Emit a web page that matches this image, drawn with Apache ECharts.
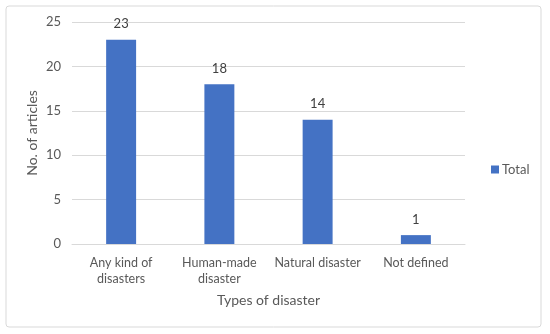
<!DOCTYPE html>
<html><head><meta charset="utf-8">
<script src="https://cdn.jsdelivr.net/npm/echarts@6/dist/echarts.min.js"></script>
<style>html,body{margin:0;padding:0;background:#fff}#c{width:550px;height:334px}</style>
</head><body><div id="c"></div>
<script>
const categories = ["Any kind of\ndisasters", "Human-made\ndisaster", "Natural disaster", "Not defined"];
const totals = [23, 18, 14, 1];
const yTicks = [0, 5, 10, 15, 20, 25];
const seriesName = "Total";
const xTitle = "Types of disaster";
const yTitle = "No. of articles";

const font = "Lato, 'Open Sans', sans-serif";
const chart = echarts.init(document.getElementById('c'), null, {renderer: 'canvas'});
chart.setOption({
  animation: false,
  textStyle: {fontFamily: font},
  graphic: [{
    type: 'rect', shape: {x: 6, y: 6, width: 535, height: 321, r: 3},
    style: {fill: 'none', stroke: '#d9d9d9', lineWidth: 1}, silent: true
  }],
  grid: {left: 72, right: 85, top: 22, bottom: 90},
  legend: {
    data: [seriesName], orient: 'vertical', left: 486, top: 158,
    itemWidth: 8, itemHeight: 8, icon: 'rect', itemGap: 4,
    textStyle: {fontFamily: font, fontSize: 13, color: '#595959', padding: [0, 0, 0, -2]}
  },
  xAxis: {
    type: 'category', data: categories,
    name: xTitle, nameLocation: 'middle', nameGap: 49, nameMoveOverlap: false,
    nameTextStyle: {fontFamily: font, fontSize: 14, color: '#595959'},
    axisLine: {lineStyle: {color: '#d9d9d9'}}, axisTick: {show: false},
    axisLabel: {fontFamily: font, fontSize: 12.5, color: '#595959', margin: 11, lineHeight: 16, interval: 0}
  },
  yAxis: {
    type: 'value', min: yTicks[0], max: yTicks[yTicks.length - 1], interval: 5,
    name: yTitle, nameLocation: 'middle', nameGap: 33, nameMoveOverlap: false,
    nameTextStyle: {fontFamily: font, fontSize: 14, color: '#595959'},
    axisLine: {show: false}, axisTick: {show: false},
    axisLabel: {fontFamily: font, fontSize: 13, color: '#595959', margin: 11},
    splitLine: {lineStyle: {color: '#d9d9d9'}}
  },
  series: [{
    name: seriesName, type: 'bar', data: totals, barWidth: '30.5%',
    itemStyle: {color: '#4472c4'},
    label: {show: true, position: 'top', distance: 9, fontFamily: font, fontSize: 13, color: '#404040'}
  }]
});
</script></body></html>
